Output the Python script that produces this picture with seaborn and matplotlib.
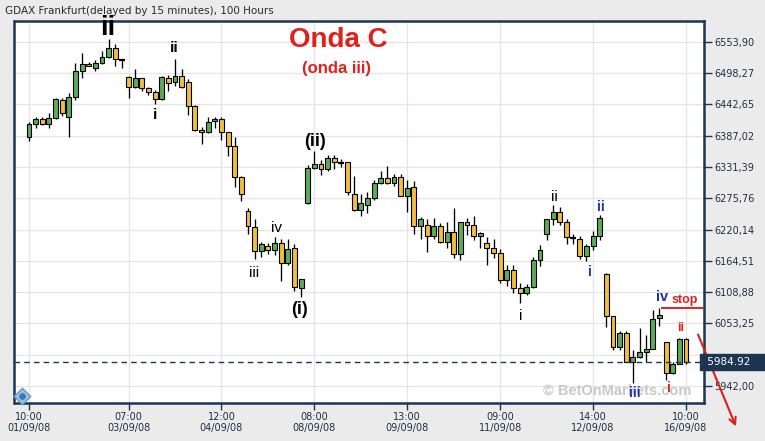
import matplotlib
matplotlib.use("Agg")
import matplotlib.pyplot as plt
import seaborn as sns
import numpy as np
import pandas as pd

# ---------------- data (hourly candles, GDAX 01/09/08 - 16/09/08) ----------------
opens = [6384, 6407, 6417, 6407, 6418, 6450, 6421, 6456, 6502, 6514,
         6508, 6516, 6527, 6542, 6523, 6492, 6474, 6489, 6471, 6464,
         6452, 6489, 6482, 6493, 6482, 6440, 6397, 6393, 6413, 6417,
         6393, 6369, 6314, 6253, 6225, 6182, 6191, 6184, 6196, 6160,
         6188, 6117, 6267, 6329, 6336, 6327, 6348, 6340, 6340, 6284,
         6255, 6264, 6277, 6302, 6312, 6302, 6314, 6280, 6295, 6226,
         6229, 6209, 6226, 6198, 6215, 6176, 6233, 6229, 6209, 6197,
         6188, 6178, 6130, 6148, 6117, 6107, 6118, 6166, 6212, 6238,
         6252, 6234, 6206, 6204, 6174, 6190, 6209, 6142, 6066, 6011,
         6037, 5985, 5994, 6003, 6007, 6063, 6021, 5965, 5982, 6025]
highs = [6412, 6421, 6421, 6428, 6454, 6453, 6462, 6516, 6534, 6518,
         6521, 6537, 6559, 6550, 6524, 6493, 6505, 6490, 6473, 6468,
         6493, 6495, 6524, 6505, 6487, 6441, 6402, 6421, 6421, 6421,
         6394, 6385, 6315, 6258, 6238, 6198, 6197, 6206, 6203, 6203,
         6194, 6132, 6335, 6360, 6344, 6352, 6352, 6345, 6340, 6315,
         6284, 6286, 6308, 6324, 6333, 6318, 6318, 6309, 6307, 6243,
         6239, 6240, 6231, 6234, 6258, 6234, 6240, 6244, 6215, 6206,
         6204, 6185, 6158, 6158, 6125, 6123, 6171, 6193, 6239, 6264,
         6261, 6239, 6213, 6209, 6194, 6218, 6246, 6143, 6067, 6039,
         6040, 6006, 6045, 6033, 6078, 6081, 6021, 5985, 6027, 6027]
lows = [6378, 6400, 6406, 6400, 6417, 6422, 6384, 6450, 6490, 6510,
        6502, 6514, 6525, 6510, 6508, 6454, 6471, 6467, 6459, 6444,
        6450, 6467, 6475, 6472, 6424, 6395, 6373, 6392, 6400, 6380,
        6350, 6295, 6271, 6213, 6167, 6172, 6176, 6175, 6129, 6157,
        6111, 6100, 6265, 6328, 6317, 6325, 6327, 6331, 6281, 6253,
        6245, 6250, 6272, 6301, 6301, 6297, 6279, 6252, 6213, 6203,
        6181, 6204, 6197, 6188, 6170, 6166, 6210, 6201, 6187, 6158,
        6169, 6125, 6120, 6107, 6090, 6104, 6117, 6156, 6201, 6228,
        6229, 6195, 6194, 6167, 6164, 6184, 6201, 6047, 6006, 6006,
        5985, 5947, 5991, 5985, 6007, 6049, 5953, 5963, 5982, 5982]
closes = [6408, 6417, 6407, 6418, 6452, 6427, 6456, 6502, 6514, 6511,
          6516, 6527, 6542, 6523, 6522, 6474, 6489, 6471, 6464, 6452,
          6491, 6480, 6493, 6473, 6440, 6397, 6393, 6412, 6417, 6393,
          6369, 6314, 6284, 6226, 6182, 6194, 6184, 6196, 6160, 6186,
          6118, 6132, 6329, 6336, 6327, 6348, 6341, 6339, 6286, 6255,
          6268, 6277, 6302, 6312, 6302, 6314, 6280, 6294, 6226, 6239,
          6209, 6226, 6198, 6215, 6176, 6233, 6229, 6209, 6214, 6188,
          6178, 6130, 6148, 6117, 6107, 6118, 6166, 6184, 6238, 6252,
          6234, 6206, 6205, 6174, 6190, 6209, 6240, 6066, 6011, 6036,
          5985, 5994, 6003, 6007, 6062, 6068, 5965, 5981, 6025, 5984.92]

price_ticks = [6553.90, 6498.27, 6442.65, 6387.02, 6331.39, 6275.76,
               6220.14, 6164.51, 6108.88, 6053.25, 5997.62, 5942.00]
time_tick_idx = [0, 15, 29, 43, 57, 71, 85, 99]
time_tick_labels = ["10:00\n01/09/08", "07:00\n03/09/08", "12:00\n04/09/08",
                    "08:00\n08/09/08", "13:00\n09/09/08", "09:00\n11/09/08",
                    "14:00\n12/09/08", "10:00\n16/09/08"]
last_price = 5984.92
stop_level = 6081
title_text = "GDAX Frankfurt(delayed by 15 minutes), 100 Hours"

df = pd.DataFrame({"open": opens, "high": highs, "low": lows, "close": closes})
df["idx"] = np.arange(len(df))

# ---------------- style ----------------
sns.set_style("white")
plt.rcParams["font.family"] = ["DejaVu Sans"]

W, H = 765, 441
fig = plt.figure(figsize=(W / 100, H / 100), dpi=100)
fig.patch.set_facecolor("#EBEBEB")
ax = fig.add_axes([14.5 / W, (H - 403) / H, 689 / W, 382.5 / H])
ax.set_facecolor("white")

GREEN = "#5BAE58"
ORANGE = "#F0BF3E"
NAVY = "#1C3553"

# grid
for p in price_ticks:
    ax.axhline(p, color="#E4E4E4", lw=0.9, zorder=0)
for i in time_tick_idx:
    ax.axvline(i, color="#E4E4E4", lw=0.9, zorder=0)

# wicks
ax.vlines(df["idx"], df["low"], df["high"], color="black", lw=0.95, zorder=2)
# bodies
up = df["close"] >= df["open"]
colors = np.where(up, GREEN, ORANGE)
bottoms = np.minimum(df["open"], df["close"])
heights = np.abs(df["close"] - df["open"])
doji = heights < 1.6
ax.bar(df["idx"][~doji], heights[~doji], bottom=bottoms[~doji], width=0.74,
       color=colors[~doji], edgecolor="black", linewidth=0.8, zorder=3)
ax.hlines(df["close"][doji], df["idx"][doji] - 0.45, df["idx"][doji] + 0.45,
          color="black", lw=1.6, zorder=3)

# last price dashed line
ax.axhline(last_price, color=NAVY, lw=1.0, ls=(0, (4, 3)), zorder=4)

xmin, xmax = -2.185, 101.64
ax.set_xlim(xmin, xmax)
ax.set_ylim(5911.9, 6591.6)

# stop line
ax.hlines(stop_level, 95.2, xmax, color="#E02020", lw=1.4, zorder=5, clip_on=False)

# ticks
ax.yaxis.tick_right()
ax.set_yticks(price_ticks)
ytl = [f"{p:.2f}".replace(".", ",") for p in price_ticks]
ax.set_yticklabels(ytl)
ax.set_xticks(time_tick_idx)
ax.set_xticklabels(time_tick_labels, linespacing=1.15)
ax.tick_params(axis="y", which="both", right=True, left=False, length=6, width=1,
               color=NAVY, labelsize=7, labelcolor="#1F2F45", pad=2)
ax.tick_params(axis="x", which="both", bottom=True, length=5, width=1,
               color=NAVY, labelsize=7, labelcolor="#1F2F45", pad=1.5)
# the 5997,62 label sits under the last-price box in the reference
for lab in ax.get_yticklabels():
    if lab.get_text() == "5997,62":
        lab.set_visible(False)
for s in ax.spines.values():
    s.set_color(NAVY)
    s.set_linewidth(1.8)
    s.set_visible(True)

# last price box
ax.text(1.0, last_price, " 5984.92    ", transform=ax.get_yaxis_transform(),
        ha="left", va="center", fontsize=7.5, color="white", zorder=10,
        bbox=dict(boxstyle="square,pad=0.3", fc=NAVY, ec=NAVY), clip_on=False)


def fpos(x, y):
    return (x / W, 1 - y / H)


SANS = ["Liberation Sans", "DejaVu Sans"]

fig.text(*fpos(5, 11), title_text, fontsize=7.5, color="#2B2B2B", va="center", ha="left")
fig.text(*fpos(338, 40), "Onda C", fontsize=20, fontweight="bold", color="#E0201B",
         ha="center", va="center", family=SANS)
fig.text(*fpos(336, 68), "(onda iii)", fontsize=12, fontweight="bold", color="#E0201B",
         ha="center", va="center", family=SANS)

# watermark
fig.text(*fpos(617, 391), "\u00a9 BetOnMarkets.com", fontsize=10.5, fontweight="bold",
         color="#C8C8C8", ha="center", va="center", family=SANS, zorder=1)

labels = [
    (108, 28, "ii", 20, "bold", "black"),
    (174, 48, "ii", 11, "bold", "black"),
    (155, 115, "i", 11, "bold", "black"),
    (315, 141, "(ii)", 13, "bold", "black"),
    (276, 228, "iv", 11, "normal", "black"),
    (254, 273, "iii", 11, "normal", "black"),
    (300, 310, "(i)", 13, "bold", "black"),
    (554, 197, "ii", 11, "normal", "black"),
    (521, 316, "i", 11, "normal", "black"),
    (601, 207, "ii", 10, "bold", "#2030A8"),
    (590, 272, "i", 10, "bold", "#2030A8"),
    (662, 297, "iv", 10.5, "bold", "#2030A8"),
    (685, 300, "stop", 9, "bold", "#E02020"),
    (681, 328, "ii", 9, "bold", "#E02020"),
    (669, 388, "i", 10, "bold", "#E02020"),
    (635, 393, "iii", 10, "bold", "#2030A8"),
]
for x, y, t, fs, fw, c in labels:
    fig.text(*fpos(x, y), t, fontsize=fs, fontweight=fw, color=c,
             ha="center", va="center", family=SANS, zorder=12)

# red arrow
ax.annotate("", xy=(737, H - 429), xycoords="figure pixels",
            xytext=(697, H - 332), textcoords="figure pixels",
            arrowprops=dict(arrowstyle="->", color="#D82020", lw=1.5,
                            mutation_scale=12), annotation_clip=False)

# info icon
ax.scatter([0.011], [0.018], transform=ax.transAxes, marker="D", s=70,
           color="#9CC0E0", edgecolor="#6C98C4", zorder=11, clip_on=False)
ax.scatter([0.011], [0.018], transform=ax.transAxes, marker="o", s=14,
           color="#3C78B8", zorder=12, clip_on=False)

fig.savefig("out.png", dpi=100, facecolor=fig.get_facecolor())
